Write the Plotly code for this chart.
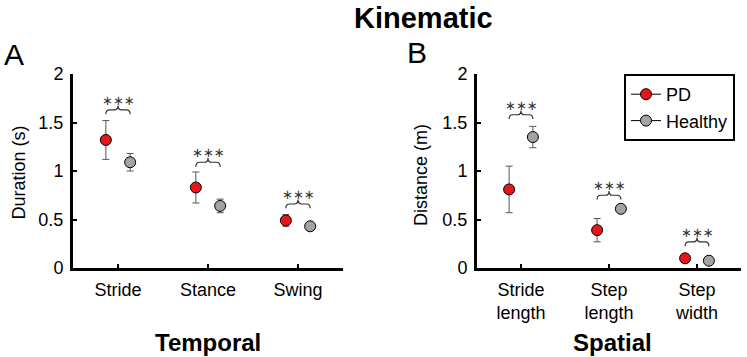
import plotly.graph_objects as go

# ---------------- data ----------------
temporal_cats = ["Stride", "Stance", "Swing"]
temporal_pd = [1.32, 0.83, 0.49]
temporal_pd_err = [0.20, 0.16, 0.06]
temporal_healthy = [1.09, 0.64, 0.43]
temporal_healthy_err = [0.09, 0.07, 0.02]
temporal_sig_level = [1.63, 1.09, 0.66]

spatial_cats = ["Stride<br>length", "Step<br>length", "Step<br>width"]
spatial_pd = [0.81, 0.39, 0.10]
spatial_pd_err = [0.24, 0.12, 0.01]
spatial_healthy = [1.35, 0.61, 0.075]
spatial_healthy_err = [0.11, 0.02, 0.01]
spatial_sig_level = [1.58, 0.75, 0.27]

y_ticks = [0, 0.5, 1, 1.5, 2]
y_tick_labels = ["0", "0.5", "1", "1.5", "2"]
sig_text = "∗∗∗"

# ---------------- style ----------------
RED = "#e8151b"
GRAY = "#a3a3a3"
OFF = 0.135
FONT = "Liberation Sans, Arial, sans-serif"
W, H = 747, 357

fig = go.Figure()

def add_panel(cats, pd_v, pd_e, h_v, h_e, sig, xa, ya):
    idx = list(range(1, len(cats) + 1))
    fig.add_trace(go.Scatter(
        x=[i - OFF for i in idx], y=pd_v, mode="markers",
        error_y=dict(type="data", array=pd_e, color="#555555", thickness=1, width=3.5),
        marker=dict(color=RED, size=11, line=dict(color="black", width=1)),
        xaxis=xa, yaxis=ya, showlegend=False, name="PD"))
    fig.add_trace(go.Scatter(
        x=[i + OFF for i in idx], y=h_v, mode="markers",
        error_y=dict(type="data", array=h_e, color="#555555", thickness=1, width=3.5),
        marker=dict(color=GRAY, size=11, line=dict(color="black", width=1)),
        xaxis=xa, yaxis=ya, showlegend=False, name="Healthy"))
    for i, b in zip(idx, sig):
        x1, x2, m = i - OFF, i + OFF, i
        d, e = 0.045, 0.04
        path = (f"M {x1},{b-d} Q {x1},{b} {x1+e},{b} L {m-e},{b} "
                f"Q {m},{b} {m},{b+d} Q {m},{b} {m+e},{b} L {x2-e},{b} "
                f"Q {x2},{b} {x2},{b-d}")
        fig.add_shape(type="path", path=path, xref=xa, yref=ya,
                      line=dict(color="#333333", width=1.2))
        fig.add_annotation(x=m, y=b + 0.1, xref=xa, yref=ya, text=sig_text,
                           showarrow=False, yanchor="middle",
                           font=dict(family="DejaVu Sans", size=13, color="#333333"))

add_panel(temporal_cats, temporal_pd, temporal_pd_err, temporal_healthy,
          temporal_healthy_err, temporal_sig_level, "x", "y")
add_panel(spatial_cats, spatial_pd, spatial_pd_err, spatial_healthy,
          spatial_healthy_err, spatial_sig_level, "x2", "y2")

# legend-only traces
fig.add_trace(go.Scatter(x=[None], y=[None], mode="lines+markers", name="PD",
                         line=dict(color="black", width=1),
                         marker=dict(color=RED, size=11, line=dict(color="black", width=1)),
                         xaxis="x2", yaxis="y2"))
fig.add_trace(go.Scatter(x=[None], y=[None], mode="lines+markers", name="Healthy",
                         line=dict(color="black", width=1),
                         marker=dict(color=GRAY, size=11, line=dict(color="black", width=1)),
                         xaxis="x2", yaxis="y2"))

ydom = [1 - 268 / H, 1 - 74 / H]
axis_common = dict(showgrid=False, zeroline=False, showline=True, linecolor="black",
                   linewidth=3, ticks="inside", tickcolor="black", ticklen=4, tickwidth=2,
                   automargin=False,
                   tickfont=dict(family=FONT, size=18, color="black"))

fig.update_layout(
    width=W, height=H, autosize=False,
    margin=dict(l=0, r=0, t=0, b=0, pad=0, autoexpand=False),
    plot_bgcolor="white", paper_bgcolor="white",
    font=dict(family=FONT, color="black"),
    xaxis=dict(domain=[73 / W, 343 / W], range=[0.5, 3.5], ticklabelstandoff=3,
               tickvals=[1, 2, 3], ticktext=temporal_cats, anchor="y", **axis_common),
    yaxis=dict(domain=ydom, range=[0, 2], tickvals=y_ticks, ticktext=y_tick_labels,
               ticklabelstandoff=3, anchor="x", **axis_common),
    xaxis2=dict(domain=[477 / W, 741 / W], range=[0.5, 3.5], ticklabelstandoff=3,
                tickvals=[1, 2, 3], ticktext=spatial_cats, anchor="y2", **axis_common),
    yaxis2=dict(domain=ydom, range=[0, 2], tickvals=y_ticks, ticktext=y_tick_labels,
                ticklabelstandoff=3, anchor="x2", **axis_common),
    legend=dict(x=624 / W, y=1 - 107.5 / H, xanchor="left", yanchor="middle",
                bordercolor="black", borderwidth=2, bgcolor="white",
                font=dict(family=FONT, size=18, color="black"),
                itemwidth=30, tracegroupgap=0),
)

def paper_ann(text, x, y, size, bold=False, angle=0):
    fig.add_annotation(x=x / W, y=1 - y / H, xref="paper", yref="paper",
                       text=f"<b>{text}</b>" if bold else text, showarrow=False,
                       textangle=angle, xanchor="center", yanchor="middle",
                       font=dict(family=FONT, size=size, color="black"))

paper_ann("Kinematic", 423, 18, 29, bold=True)
paper_ann("A", 13.5, 54, 30)
paper_ann("B", 417.5, 52, 30)
paper_ann("Temporal", 208, 342, 24, bold=True)
paper_ann("Spatial", 612, 342, 24, bold=True)
paper_ann("Duration (s)", 18.5, 173, 18, angle=-90)
paper_ann("Distance (m)", 421, 175, 18, angle=-90)

fig.write_html("out.html", config={"displayModeBar": False},
               post_script="document.body.style.margin='0';document.body.style.overflow='hidden';")
